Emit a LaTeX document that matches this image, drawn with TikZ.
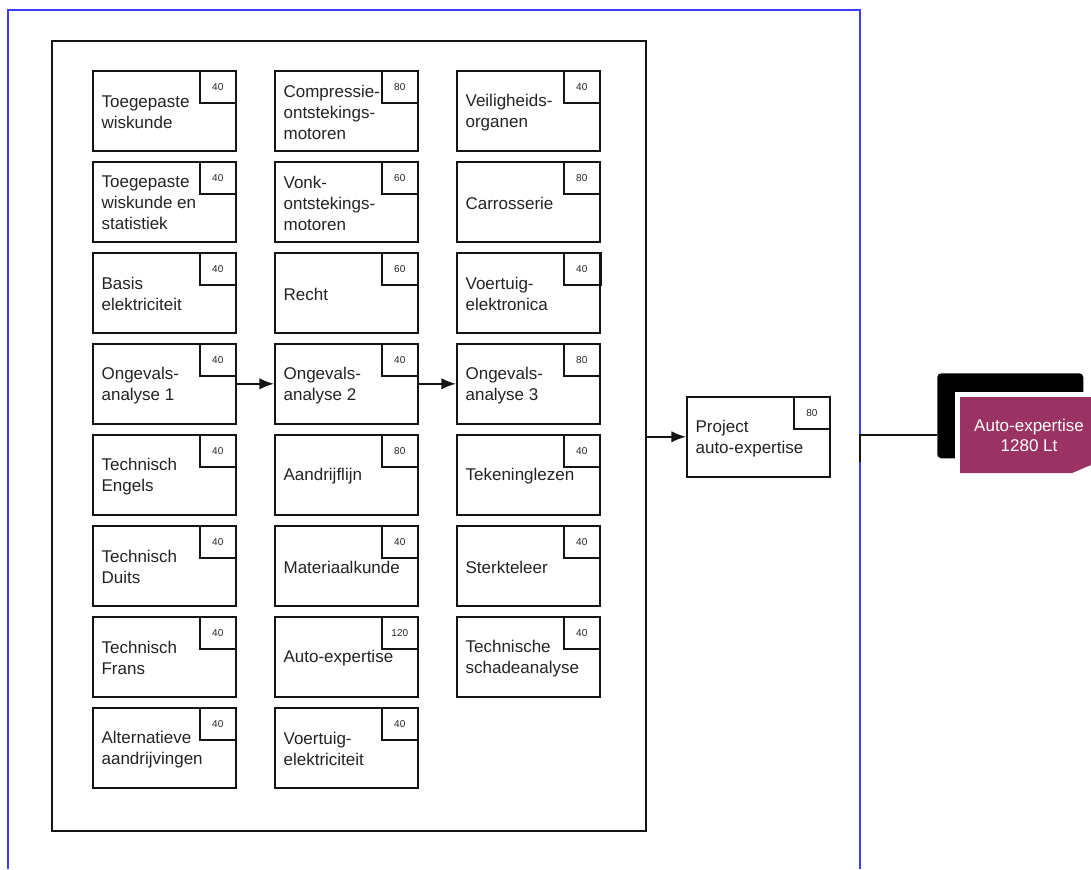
\documentclass[tikz,border=0pt]{standalone}
\usepackage{fontspec}
\setmainfont{Liberation Sans}
\usetikzlibrary{arrows.meta,calc}
\definecolor{frameblue}{RGB}{60,60,255}
\definecolor{plum}{RGB}{155,50,100}
\definecolor{txt}{RGB}{35,35,35}
\definecolor{edge}{RGB}{20,20,20}
\tikzset{
  cbox/.style={draw=edge, line width=1.2pt, minimum width=107.25pt, minimum height=60pt, inner sep=0pt, anchor=north west},
  nbox/.style={draw=edge, line width=1.2pt, anchor=north east, minimum width=27pt, minimum height=24pt, inner sep=0pt, text=txt, font=\fontsize{7.5pt}{9pt}\selectfont},
  ctext/.style={anchor=west, align=left, inner sep=0pt, text=txt, font=\fontsize{12.75pt}{15.75pt}\selectfont},
  arr/.style={draw=edge, line width=1.2pt, -{Latex[length=11pt,width=8.5pt]}},
  conn/.style={draw=edge, line width=1.2pt}
}
\newcommand\coursebox[5]{%
  \node[cbox] (#1) at (#2,#3) {};
  \node[nbox] (#1n) at (#1.north east) {#5};
  \node[ctext] (#1t) at ([xshift=7pt,yshift=-1pt]#1.west) {#4};
}
\begin{document}
\begin{tikzpicture}[x=0.75pt,y=-0.75pt]
\useasboundingbox (0,0) rectangle (1091,869);
% blue frame
\draw[frameblue, line width=1.6pt] (8,869) -- (8,10) -- (860,10) -- (860,869);
% group
\node[draw=edge, line width=1.2pt, minimum width=445.5pt, minimum height=592.5pt, inner sep=0pt, anchor=north west] (group) at (51,40) {};
% column 1
\coursebox{a1}{92}{70}{Toegepaste\\wiskunde}{40}
\coursebox{a2}{92}{161}{Toegepaste\\wiskunde en\\statistiek}{40}
\coursebox{a3}{92}{252}{Basis\\elektriciteit}{40}
\coursebox{a4}{92}{343}{Ongevals-\\analyse 1}{40}
\coursebox{a5}{92}{434}{Technisch\\Engels}{40}
\coursebox{a6}{92}{525}{Technisch\\Duits}{40}
\coursebox{a7}{92}{616}{Technisch\\Frans}{40}
\coursebox{a8}{92}{707}{Alternatieve\\aandrijvingen}{40}
% column 2
\coursebox{b1}{274}{70}{Compressie-\\ontstekings-\\motoren}{80}
\coursebox{b2}{274}{161}{Vonk-\\ontstekings-\\motoren}{60}
\coursebox{b3}{274}{252}{Recht}{60}
\coursebox{b4}{274}{343}{Ongevals-\\analyse 2}{40}
\coursebox{b5}{274}{434}{Aandrijflijn}{80}
\coursebox{b6}{274}{525}{Materiaalkunde}{40}
\coursebox{b7}{274}{616}{Auto-expertise}{120}
\coursebox{b8}{274}{707}{Voertuig-\\elektriciteit}{40}
% column 3
\coursebox{c1}{456}{70}{Veiligheids-\\organen}{40}
\coursebox{c2}{456}{161}{Carrosserie}{80}
\coursebox{c3}{456}{252}{Voertuig-\\elektronica}{40}
\coursebox{c4}{456}{343}{Ongevals-\\analyse 3}{80}
\coursebox{c5}{456}{434}{Tekeninglezen}{40}
\coursebox{c6}{456}{525}{Sterkteleer}{40}
\coursebox{c7}{456}{616}{Technische\\schadeanalyse}{40}
\draw[edge, line width=1.8pt] (c3.north east) -- (c3n.south east);
% arrows between accident analyses
\draw[arr] (a4.east) -- (b4.west);
\draw[arr] (b4.east) -- (c4.west);
% project
\coursebox{project}{686}{396}{Project\\auto-expertise}{80}
\draw[arr] (group.east |- project.west) -- (project.west);
% final module
\node[fill=black, rounded corners=3pt, minimum width=109.5pt, minimum height=63.75pt, inner sep=0pt, anchor=north west] (shadow) at (937,373) {};
\fill[white] (955,392) rectangle (1095,480);
\fill[plum] (960,397) -- (1095,397) -- (1095,463) -- (1091,465) -- (1072,473) -- (960,473) -- cycle;
\node[text=white, align=center, inner sep=0pt, font=\fontsize{12.75pt}{15pt}\selectfont] (autoexp) at (1029,435) {Auto-expertise\\1280 Lt};
\coordinate (tick) at (860,462);
\draw[conn] (tick) |- (shadow.west |- autoexp.center);
\end{tikzpicture}
\end{document}
